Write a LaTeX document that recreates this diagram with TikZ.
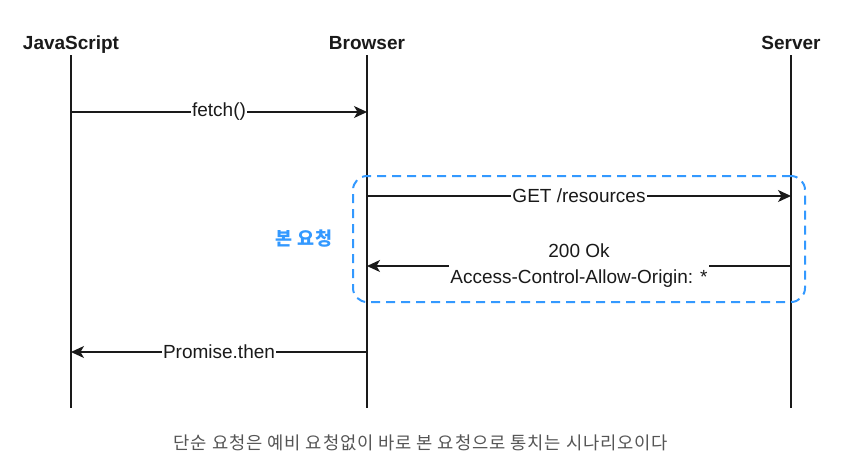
\documentclass[tikz,border=0pt]{standalone}
\usepackage{fontspec}
\setmainfont{Liberation Sans}
\newfontfamily\kofont{Noto Sans CJK KR}[LetterSpace=5]
\usetikzlibrary{arrows.meta}
\definecolor{lineblack}{HTML}{1A1A1A}
\definecolor{reqblue}{HTML}{3399FF}
\definecolor{capgray}{HTML}{555555}
\tikzset{every node/.append style={font=\rmfamily}}
\tikzset{
  actor/.style={anchor=base,text=lineblack,font=\bfseries\fontsize{19}{22}\selectfont},
  msg/.style={fill=white,inner sep=1pt,align=center,text=lineblack,
    font=\fontsize{19}{26}\selectfont},
  life/.style={lineblack,line width=1.3pt},
  call/.style={->,lineblack,line width=1.1pt},
}

\begin{document}
\begin{tikzpicture}[x=1pt,y=-1pt,>={Stealth[length=13pt,width=12pt,inset=3.5pt]}]
  \useasboundingbox (0,0) rectangle (849,456);
  % lifelines
  \foreach \name/\x/\txt in {js/71/JavaScript, br/367/Browser, sv/791/Server} {
    \node[actor] (\name) at (\x,49) {\txt};
    \coordinate (\name-top) at (\x,55);
    \coordinate (\name-bot) at (\x,408);
    \draw[life] (\name-top) -- (\name-bot);
    \foreach \row/\y in {fetch/112, get/196, ok/266, then/352}
      \coordinate (\name-\row) at (\x,\y);
  }
  % main request box
  \node[draw=reqblue,line width=2pt,dash pattern=on 9pt off 6pt,
    rounded corners=14pt,minimum width=452pt,minimum height=126pt]
    (mainreq) at (579,239) {};
  \node[anchor=east,text=reqblue,font=\kofont\bfseries\fontsize{18.5}{20}\selectfont]
    (mainlbl) at ([xshift=-16pt]mainreq.west) {본 요청};
  % messages
  \draw[call] (js-fetch) -- (br-fetch) node[msg,midway] {fetch()};
  \draw[call] (br-get) -- (sv-get) node[msg,midway] {GET /resources};
  \draw[call] (sv-ok) -- (br-ok)
    node[msg,midway] {200 Ok\\Access-Control-Allow-Origin: *};
  \draw[call] (br-then) -- (js-then) node[msg,midway] {Promise.then};
  % caption
  \node[text=capgray,font=\kofont\fontsize{17.7}{20}\selectfont]
    (caption) at (421,443) {단순 요청은 예비 요청없이 바로 본 요청으로 통치는 시나리오이다};
\end{tikzpicture}
\end{document}
